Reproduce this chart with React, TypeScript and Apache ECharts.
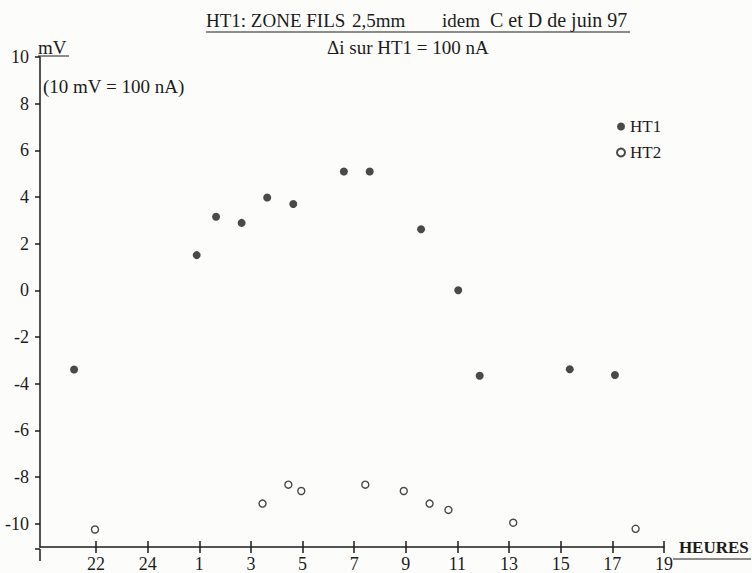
import React, { useEffect, useRef } from "react";
import * as echarts from "echarts";

// x positions in continuous "tick units": 22 -> 22, 24 -> 24, 1 -> 26, 3 -> 28 ... 19 -> 44
const xTickPositions = [22, 24, 26, 28, 30, 32, 34, 36, 38, 40, 42, 44];
const xTickLabels = ["22", "24", "1", "3", "5", "7", "9", "11", "13", "15", "17", "19"];
const yTickValues = [-10, -8, -6, -4, -2, 0, 2, 4, 6, 8, 10];

const ht1X = [21.15, 25.9, 26.65, 27.64, 28.63, 29.64, 31.6, 32.6, 34.59, 36.03, 36.86, 40.35, 42.1];
const ht1Y = [-3.39, 1.51, 3.15, 2.89, 3.98, 3.7, 5.09, 5.09, 2.62, 0.0, -3.66, -3.38, -3.63];

const ht2X = [21.96, 28.45, 29.45, 29.95, 32.43, 33.92, 34.92, 35.65, 38.16, 42.9];
const ht2Y = [-10.25, -9.14, -8.33, -8.6, -8.33, -8.6, -9.14, -9.41, -9.96, -10.22];

const INK = "#1c1c1c";
const FAMILY = "Liberation Serif";
const FONT = "'Liberation Serif', 'Times New Roman', serif";

export default function App() {
  const ref = useRef<HTMLDivElement>(null);
  useEffect(() => {
    if (!ref.current) return;
    const chart = echarts.init(ref.current, null, { renderer: "svg" });
    const labelFor = (v: number) => {
      const i = xTickPositions.findIndex((p) => Math.abs(p - v) < 1e-6);
      return i >= 0 ? xTickLabels[i] : "";
    };
    chart.setOption({
      animation: false,
      backgroundColor: "#fcfcfa",
      grid: { left: 40, right: 88, top: 57, bottom: 24, containLabel: false },
      legend: {
        orient: "vertical",
        left: 611,
        top: 113,
        itemWidth: 8,
        itemHeight: 8,
        itemGap: 9,
        data: ["HT1", "HT2"],
        textStyle: { fontFamily: FAMILY, fontSize: 17, color: INK },
      },
      xAxis: [
        {
          type: "value",
          min: 19.83,
          max: 44,
          position: "bottom",
          axisLine: { onZero: false, lineStyle: { color: INK, width: 1.5 } },
          axisTick: { show: true, length: 6, customValues: xTickPositions, lineStyle: { color: INK, width: 1.5 } },
          axisLabel: {
            customValues: xTickPositions,
            formatter: (v: number) => labelFor(v),
            fontFamily: FAMILY,
            fontSize: 18,
            color: INK,
            margin: 8,
          },
          splitLine: { show: false },
          name: "HEURES",
          nameLocation: "end",
          nameGap: 9,
          nameTextStyle: { fontFamily: FAMILY, fontSize: 17, fontWeight: "bold", color: INK },
        },
        {
          type: "value",
          min: 19.83,
          max: 44,
          position: "bottom",
          axisLine: { show: false, onZero: false },
          axisTick: { show: true, inside: true, length: 6, customValues: xTickPositions, lineStyle: { color: INK, width: 1.5 } },
          axisLabel: { show: false },
          splitLine: { show: false },
        },
      ],
      yAxis: {
        type: "value",
        min: -11,
        max: 10,
        axisLine: { show: true, onZero: false, lineStyle: { color: INK, width: 1.5 } },
        axisTick: { show: true, length: 5, customValues: yTickValues, lineStyle: { color: INK, width: 1.5 } },
        axisLabel: {
          customValues: yTickValues,
          fontFamily: FAMILY,
          fontSize: 18,
          color: INK,
          margin: 11,
        },
        splitLine: { show: false },
      },
      graphic: [
        { type: "text", left: 206, top: 11, style: { text: "HT1: ZONE FILS", font: `19px ${FONT}`, fill: INK } },
        { type: "text", left: 352, top: 11, style: { text: "2,5mm", font: `19px ${FONT}`, fill: INK } },
        { type: "text", left: 442, top: 11, style: { text: "idem", font: `19px ${FONT}`, fill: INK } },
        { type: "text", left: 490, top: 10, style: { text: "C et D de juin 97", font: `20px ${FONT}`, fill: INK } },
        { type: "line", shape: { x1: 206, y1: 32, x2: 630, y2: 32 }, style: { stroke: INK, lineWidth: 1 } },
        { type: "text", left: 327, top: 38, style: { text: "\u0394i sur HT1 = 100 nA", font: `19px ${FONT}`, fill: INK } },
        { type: "text", left: 38, top: 38, style: { text: "mV", font: `19px ${FONT}`, fill: INK } },
        { type: "line", shape: { x1: 38, y1: 56, x2: 69, y2: 56 }, style: { stroke: INK, lineWidth: 1 } },
        { type: "text", left: 43, top: 77, style: { text: "(10 mV = 100 nA)", font: `19px ${FONT}`, fill: INK } },
        { type: "line", shape: { x1: 673, y1: 559, x2: 751, y2: 559 }, style: { stroke: INK, lineWidth: 1 } },
        { type: "line", shape: { x1: 40, y1: 549, x2: 40, y2: 561 }, style: { stroke: INK, lineWidth: 1.5 } },
        { type: "line", shape: { x1: 35, y1: 549, x2: 40, y2: 549 }, style: { stroke: INK, lineWidth: 1.5 } },
      ],
      series: [
        {
          name: "HT1",
          type: "scatter",
          symbol: "circle",
          symbolSize: 8,
          itemStyle: { color: INK },
          data: ht1X.map((x, i) => [x, ht1Y[i]]),
        },
        {
          name: "HT2",
          type: "scatter",
          symbol: "circle",
          symbolSize: 7,
          itemStyle: { color: "#ffffff", borderColor: INK, borderWidth: 1.4 },
          data: ht2X.map((x, i) => [x, ht2Y[i]]),
        },
      ],
    });
    return () => chart.dispose();
  }, []);
  return (
    <div
      ref={ref}
      style={{ position: "fixed", left: 0, top: 0, width: 752, height: 573 }}
    />
  );
}
